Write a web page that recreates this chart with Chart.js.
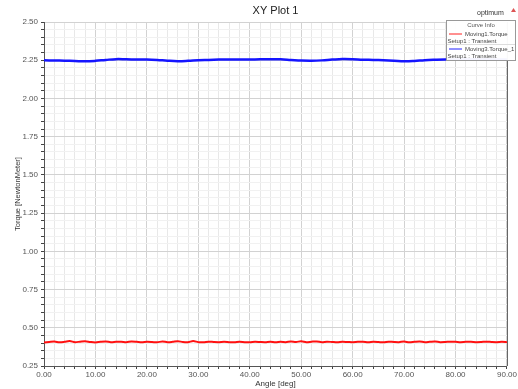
<!DOCTYPE html>
<html>
<head>
<meta charset="utf-8">
<script src="https://cdn.jsdelivr.net/npm/chart.js@4.4.1/dist/chart.umd.min.js"></script>
<style>
  html, body { margin: 0; padding: 0; background: #fff; }
  #wrap { position: relative; width: 518px; height: 389px; }
</style>
</head>
<body>
<div id="wrap"><canvas id="c" width="518" height="389"></canvas></div>
<script>
// Torque vs rotor angle, two transient curves
const chartTitle = 'XY Plot 1';
const setupName = 'optimum';
const seriesNames = ['Moving1.Torque', 'Moving3.Torque_1'];
const seriesSetup = ['Setup1 : Transient', 'Setup1 : Transient'];

// Moving3.Torque_1 sampled every 2 deg
const blueAngle = [0,2,4,6,8,10,12,14,16,18,20,22,24,26,28,30,32,34,36,38,40,42,44,46,48,50,52,54,56,58,60,62,64,66,68,70,72,74,76,78,80,82,84,86,88,90];
const blueTorque = [2.250,2.248,2.247,2.245,2.243,2.246,2.252,2.257,2.256,2.255,2.255,2.252,2.247,2.244,2.246,2.250,2.252,2.254,2.255,2.255,2.255,2.256,2.257,2.256,2.252,2.248,2.247,2.249,2.254,2.258,2.257,2.253,2.252,2.250,2.247,2.243,2.245,2.250,2.253,2.255,2.255,2.256,2.257,2.256,2.255,2.254];

// Moving1.Torque sampled every 1 deg
const redAngle = [0,1,2,3,4,5,6,7,8,9,10,11,12,13,14,15,16,17,18,19,20,21,22,23,24,25,26,27,28,29,30,31,32,33,34,35,36,37,38,39,40,41,42,43,44,45,46,47,48,49,50,51,52,53,54,55,56,57,58,59,60,61,62,63,64,65,66,67,68,69,70,71,72,73,74,75,76,77,78,79,80,81,82,83,84,85,86,87,88,89,90];
const redTorque = [0.404,0.407,0.410,0.405,0.408,0.413,0.406,0.409,0.412,0.407,0.404,0.408,0.410,0.406,0.408,0.409,0.406,0.410,0.408,0.405,0.408,0.407,0.405,0.411,0.406,0.408,0.412,0.407,0.406,0.413,0.406,0.405,0.409,0.407,0.406,0.408,0.406,0.405,0.408,0.406,0.405,0.408,0.407,0.406,0.409,0.405,0.408,0.406,0.410,0.407,0.412,0.406,0.409,0.411,0.406,0.409,0.407,0.405,0.408,0.407,0.406,0.408,0.409,0.405,0.408,0.407,0.405,0.409,0.407,0.406,0.410,0.405,0.408,0.411,0.406,0.408,0.410,0.406,0.407,0.409,0.408,0.406,0.408,0.408,0.406,0.407,0.409,0.407,0.406,0.408,0.406];

const yMin = 0.25, yMax = 2.5, yMajor = 0.25, yMinor = 0.05;
const xMin = 0, xMax = 90, xMajor = 10, xMinor = 2;

const FONT = 'Liberation Sans, Arial, sans-serif';

function isMajor(v, step) {
  const r = v / step;
  return Math.abs(r - Math.round(r)) < 1e-6;
}

// header text, right frame edge and the "Curve Info" box
const overlayPlugin = {
  id: 'overlay',
  afterDatasetsDraw(chart) {
    const ctx = chart.ctx;
    const area = chart.chartArea;
    ctx.save();
    ctx.strokeStyle = '#666';
    ctx.lineWidth = 1;
    ctx.beginPath();
    ctx.moveTo(Math.round(area.right) + 0.5, area.top);
    ctx.lineTo(Math.round(area.right) + 0.5, area.bottom);
    ctx.stroke();
    ctx.restore();
  },
  afterDraw(chart) {
    const ctx = chart.ctx;
    const area = chart.chartArea;
    ctx.save();
    ctx.fillStyle = '#222';
    ctx.font = '11px ' + FONT;
    ctx.textAlign = 'center';
    ctx.textBaseline = 'middle';
    ctx.fillText(chartTitle, (area.left + area.right) / 2, 11);

    ctx.font = '7px ' + FONT;
    ctx.textAlign = 'left';
    ctx.fillStyle = '#333';
    ctx.fillText(setupName, 477, 13);
    // small marker
    ctx.fillStyle = '#d55';
    ctx.beginPath();
    ctx.moveTo(511, 12); ctx.lineTo(513.5, 8); ctx.lineTo(516, 12); ctx.closePath();
    ctx.fill();

    // curve info box
    const bx = 446, by = 20, bw = 70, bh = 41;
    ctx.fillStyle = 'rgba(255,255,255,0.96)';
    ctx.fillRect(bx, by, bw, bh);
    ctx.strokeStyle = '#999';
    ctx.lineWidth = 1;
    ctx.strokeRect(bx + 0.5, by + 0.5, bw - 1, bh - 1);
    ctx.fillStyle = '#555';
    ctx.font = '6px ' + FONT;
    ctx.textAlign = 'center';
    ctx.fillText('Curve Info', bx + bw / 2, by + 5);
    ctx.strokeStyle = '#ddd';
    ctx.beginPath();
    ctx.moveTo(bx + 1, by + 24.5); ctx.lineTo(bx + bw - 1, by + 24.5);
    ctx.stroke();
    const colors = ['#ff2020', '#2020ff'];
    for (let i = 0; i < 2; i++) {
      const y0 = by + 14 + i * 15;
      ctx.strokeStyle = colors[i];
      ctx.lineWidth = 1;
      ctx.beginPath();
      ctx.moveTo(bx + 3, y0); ctx.lineTo(bx + 16, y0);
      ctx.stroke();
      ctx.fillStyle = '#444';
      ctx.textAlign = 'left';
      ctx.fillText(seriesNames[i], bx + 19, y0);
      ctx.fillText(seriesSetup[i], bx + 1.5, y0 + 7);
    }
    ctx.restore();
  }
};

const majorGrid = '#d2d2d2';
const minorGridX = '#e8e8e8';
const minorGridY = '#f1f1f1';

new Chart(document.getElementById('c'), {
  type: 'line',
  data: {
    datasets: [
      {
        label: seriesNames[0],
        data: redAngle.map((a, i) => ({ x: a, y: redTorque[i] })),
        borderColor: '#ff1010',
        borderWidth: 2,
        pointRadius: 0,
        tension: 0.3,
        fill: false
      },
      {
        label: seriesNames[1],
        data: blueAngle.map((a, i) => ({ x: a, y: blueTorque[i] })),
        borderColor: '#1515ff',
        borderWidth: 2.5,
        pointRadius: 0,
        tension: 0.4,
        fill: false
      }
    ]
  },
  options: {
    responsive: false,
    animation: false,
    devicePixelRatio: 1,
    layout: { padding: { top: 22, right: 8, left: 0, bottom: 0 } },
    plugins: {
      legend: { display: false },
      title: { display: false },
      tooltip: { enabled: false }
    },
    scales: {
      x: {
        type: 'linear',
        min: xMin, max: xMax,
        afterFit(s) { s.height = 23; },
        ticks: {
          stepSize: xMinor,
          autoSkip: false,
          maxRotation: 0,
          padding: 1,
          color: '#555',
          font: { size: 8, family: FONT },
          callback: (v) => isMajor(v, xMajor) ? v.toFixed(2) : ''
        },
        grid: {
          color: (c) => isMajor(c.tick.value, xMajor) ? majorGrid : minorGridX,
          tickColor: '#444',
          tickLength: 3
        },
        border: { color: '#555', width: 1 },
        title: {
          display: true,
          text: 'Angle [deg]',
          color: '#333',
          font: { size: 8, family: FONT },
          padding: { top: 0, bottom: 0 }
        }
      },
      y: {
        type: 'linear',
        min: yMin, max: yMax,
        afterFit(s) { s.width = 44; },
        ticks: {
          stepSize: yMinor,
          autoSkip: false,
          padding: 3,
          color: '#555',
          font: { size: 8, family: FONT },
          callback: (v) => isMajor(v, yMajor) ? v.toFixed(2) : ''
        },
        grid: {
          color: (c) => isMajor(c.tick.value, yMajor) ? majorGrid : minorGridY,
          tickColor: '#444',
          tickLength: 3
        },
        border: { color: '#555', width: 1 },
        title: {
          display: true,
          text: 'Torque [NewtonMeter]',
          color: '#333',
          font: { size: 7.5, family: FONT },
          padding: { top: 13, bottom: 0 }
        }
      }
    }
  },
  plugins: [overlayPlugin]
});
</script>
</body>
</html>
